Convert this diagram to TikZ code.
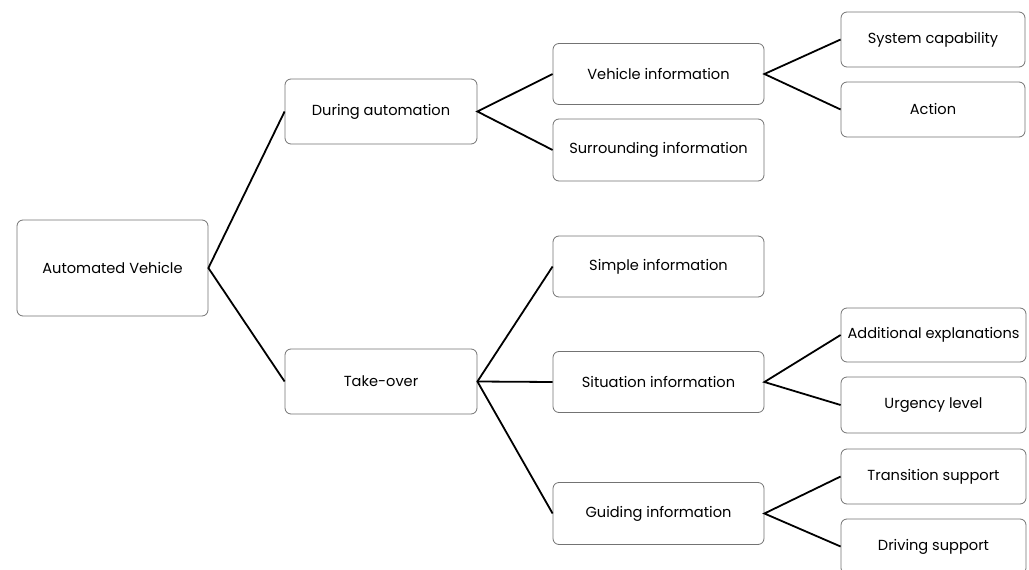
\documentclass[tikz,border=0pt]{standalone}
\usepackage{fontspec}
\setmainfont{Poppins}
\begin{document}
\begin{tikzpicture}[x=1pt,y=-1pt,
  box/.style={draw=black!55, line width=0.8pt, rounded corners=6pt, fill=white,
    inner sep=0pt, align=center, font=\fontsize{14.6}{17}\selectfont},
  link/.style={line width=1.8pt, black}]
\useasboundingbox (0,0) rectangle (1029,570);
\clip (0,0) rectangle (1029,570);
\node[box, minimum width=191pt, minimum height=96pt] (av) at (112.5,268) {Automated Vehicle};
\node[box, minimum width=192pt, minimum height=65pt] (da) at (381,111.5) {During automation};
\node[box, minimum width=192pt, minimum height=65pt] (to) at (381,381.5) {Take-over};
\node[box, minimum width=211pt, minimum height=61pt] (vi) at (658.5,74) {Vehicle information};
\node[box, minimum width=211pt, minimum height=62pt] (si) at (658.5,150) {Surrounding information};
\node[box, minimum width=184pt, minimum height=55pt] (sc) at (933,39.5) {System capability};
\node[box, minimum width=184pt, minimum height=55pt] (ac) at (933,109.5) {Action};
\node[box, minimum width=211pt, minimum height=61pt] (simp) at (658.5,266.5) {Simple information};
\node[box, minimum width=211pt, minimum height=61pt] (sit) at (658.5,382) {Situation information};
\node[box, minimum width=211pt, minimum height=62pt] (gi) at (658.5,513.5) {Guiding information};
\node[box, minimum width=185pt, minimum height=54pt] (ae) at (933.5,335) {Additional explanations};
\node[box, minimum width=185pt, minimum height=56pt] (ul) at (933.5,405) {Urgency level};
\node[box, minimum width=185pt, minimum height=55pt] (ts) at (933.5,476.5) {Transition support};
\node[box, minimum width=185pt, minimum height=55pt] (ds) at (933.5,546.5) {Driving support};
\draw[link] (da.west) -- (av.east) -- (to.west);
\draw[link] (vi.west) -- (da.east) -- (si.west);
\draw[link] (sc.west) -- (vi.east) -- (ac.west);
\draw[link] (simp.west) -- (to.east) -- (gi.west);
\draw[link] (to.east) -- (sit.west);
\draw[link] (ae.west) -- (sit.east) -- (ul.west);
\draw[link] (ts.west) -- (gi.east) -- (ds.west);
\end{tikzpicture}
\end{document}
